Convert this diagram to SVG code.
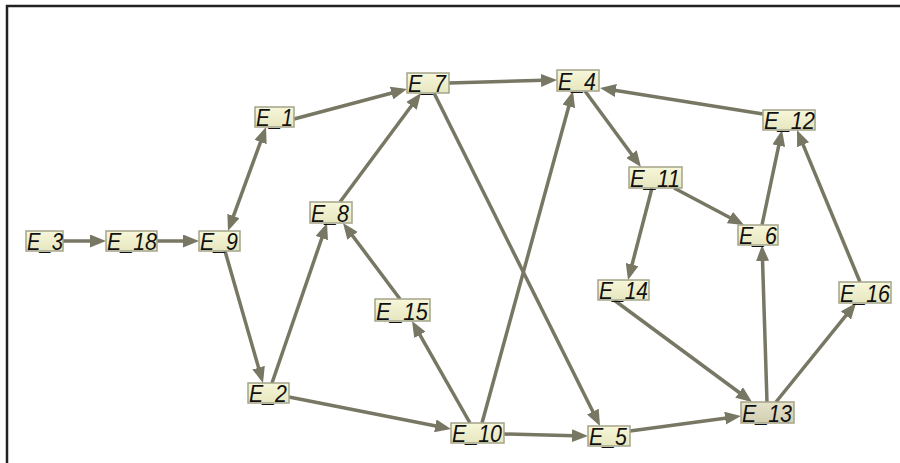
<svg xmlns="http://www.w3.org/2000/svg" width="900" height="463" viewBox="0 0 900 463">
<defs>
<linearGradient id="gBox" x1="0" y1="0" x2="0" y2="1">
<stop offset="0" stop-color="#f7f7da"/>
<stop offset="1" stop-color="#e6e6bf"/>
</linearGradient>
<linearGradient id="gBoxDark" x1="0" y1="0" x2="0" y2="1">
<stop offset="0" stop-color="#e6e2c8"/>
<stop offset="1" stop-color="#d2ceb2"/>
</linearGradient>
<marker id="arr" viewBox="0 0 16 13" refX="11" refY="6.5" markerWidth="16" markerHeight="13" markerUnits="userSpaceOnUse" orient="auto-start-reverse">
<path d="M0,0 L16,6.5 L0,13 Z" fill="#777764"/>
</marker>
</defs>
<style>
.box{fill:url(#gBox);stroke:#a4a48a;stroke-width:1.5}
.box.dark{fill:url(#gBoxDark)}
.lbl{font-family:"Liberation Sans",Arial,sans-serif;font-style:italic;font-size:23px;fill:#111}
.edge{stroke:#777764;stroke-width:3.5;fill:none;marker-end:url(#arr)}
</style>
<rect width="900" height="463" fill="#ffffff"/>
<path d="M7,463 V6 H900" fill="none" stroke="#222" stroke-width="2.5"/>
<g id="connectors">
<line class="edge" x1="63" y1="241" x2="101" y2="241"/>
<line class="edge" x1="157" y1="241" x2="194" y2="241"/>
<line class="edge" x1="264.3" y1="131.7" x2="229.7" y2="226.3" marker-start="url(#arr)"/>
<line class="edge" x1="225" y1="251" x2="261.6" y2="378.2"/>
<line class="edge" x1="294" y1="119" x2="402.2" y2="90.3"/>
<line class="edge" x1="272" y1="383" x2="325.4" y2="227.7"/>
<line class="edge" x1="340" y1="202" x2="418" y2="97"/>
<line class="edge" x1="449" y1="83" x2="552" y2="80.1"/>
<line class="edge" x1="434" y1="93" x2="597.8" y2="421.5"/>
<line class="edge" x1="400" y1="299" x2="346" y2="227"/>
<line class="edge" x1="470" y1="423" x2="414.5" y2="325.3"/>
<line class="edge" x1="482" y1="423" x2="571.7" y2="95.8"/>
<line class="edge" x1="289" y1="397" x2="446.1" y2="428"/>
<line class="edge" x1="504" y1="434" x2="583" y2="435.9"/>
<line class="edge" x1="630" y1="431" x2="736" y2="416.7"/>
<line class="edge" x1="585" y1="91" x2="638" y2="163"/>
<line class="edge" x1="763" y1="114" x2="605" y2="88.8"/>
<line class="edge" x1="674" y1="188" x2="739.6" y2="222.7"/>
<line class="edge" x1="652" y1="188" x2="629.3" y2="275.2"/>
<line class="edge" x1="762" y1="225" x2="781" y2="134.9"/>
<line class="edge" x1="614" y1="300" x2="748" y2="399"/>
<line class="edge" x1="767" y1="402" x2="762.2" y2="250"/>
<line class="edge" x1="776" y1="402" x2="852.9" y2="306.9"/>
<line class="edge" x1="860" y1="282" x2="798.9" y2="134.6"/>
</g>
<g id="E_3"><rect class="box" x="26" y="231" width="37" height="20"/><text class="lbl" x="27" y="250" textLength="36" lengthAdjust="spacingAndGlyphs">E_3</text></g>
<g id="E_18"><rect class="box" x="106" y="231" width="51" height="20"/><text class="lbl" x="107" y="250" textLength="50" lengthAdjust="spacingAndGlyphs">E_18</text></g>
<g id="E_9"><rect class="box" x="199" y="231" width="41" height="20"/><text class="lbl" x="200" y="250" textLength="38" lengthAdjust="spacingAndGlyphs">E_9</text></g>
<g id="E_1"><rect class="box" x="255" y="107" width="39" height="20"/><text class="lbl" x="256" y="126" textLength="37" lengthAdjust="spacingAndGlyphs">E_1</text></g>
<g id="E_7"><rect class="box" x="407" y="73" width="42" height="20"/><text class="lbl" x="408" y="92" textLength="38" lengthAdjust="spacingAndGlyphs">E_7</text></g>
<g id="E_4"><rect class="box" x="557" y="70" width="42" height="21"/><text class="lbl" x="558" y="90" textLength="38" lengthAdjust="spacingAndGlyphs">E_4</text></g>
<g id="E_12"><rect class="box" x="763" y="110" width="52" height="20"/><text class="lbl" x="764" y="129" textLength="51" lengthAdjust="spacingAndGlyphs">E_12</text></g>
<g id="E_11"><rect class="box" x="629" y="167" width="53" height="21"/><text class="lbl" x="630" y="187" textLength="50" lengthAdjust="spacingAndGlyphs">E_11</text></g>
<g id="E_6"><rect class="box" x="738" y="225" width="40" height="20"/><text class="lbl" x="739" y="244" textLength="38" lengthAdjust="spacingAndGlyphs">E_6</text></g>
<g id="E_8"><rect class="box" x="310" y="202" width="42" height="21"/><text class="lbl" x="311" y="222" textLength="38" lengthAdjust="spacingAndGlyphs">E_8</text></g>
<g id="E_15"><rect class="box" x="375" y="299" width="55" height="22"/><text class="lbl" x="376" y="320" textLength="52" lengthAdjust="spacingAndGlyphs">E_15</text></g>
<g id="E_2"><rect class="box" x="248" y="383" width="41" height="20"/><text class="lbl" x="249" y="402" textLength="38" lengthAdjust="spacingAndGlyphs">E_2</text></g>
<g id="E_10"><rect class="box" x="451" y="423" width="53" height="20"/><text class="lbl" x="452" y="442" textLength="50" lengthAdjust="spacingAndGlyphs">E_10</text></g>
<g id="E_5"><rect class="box" x="588" y="426" width="42" height="20"/><text class="lbl" x="589" y="445" textLength="38" lengthAdjust="spacingAndGlyphs">E_5</text></g>
<g id="E_13"><rect class="box dark" x="741" y="402" width="53" height="21"/><text class="lbl" x="742" y="422" textLength="50" lengthAdjust="spacingAndGlyphs">E_13</text></g>
<g id="E_14"><rect class="box" x="598" y="280" width="51" height="20"/><text class="lbl" x="599" y="299" textLength="49" lengthAdjust="spacingAndGlyphs">E_14</text></g>
<g id="E_16"><rect class="box" x="839" y="282" width="52" height="21"/><text class="lbl" x="840" y="302" textLength="50" lengthAdjust="spacingAndGlyphs">E_16</text></g>
</svg>
